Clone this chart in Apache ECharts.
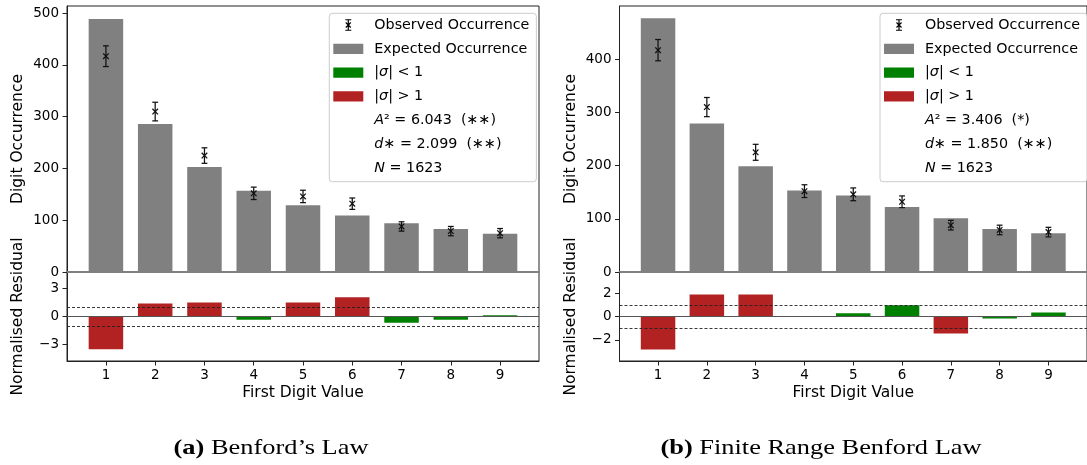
<!DOCTYPE html>
<html><head><meta charset="utf-8">
<script src="https://cdn.jsdelivr.net/npm/echarts@6/dist/echarts.min.js"></script>
<style>html,body{margin:0;padding:0;background:#fff}#c{width:1087px;height:465px}</style>
</head><body><div id="c"></div>
<script>
// ---------------- data ----------------
const digits = [1, 2, 3, 4, 5, 6, 7, 8, 9];
const observed = [417, 310, 225, 152, 146, 132, 88, 79, 75];
const observedErr = [20, 18, 15, 12, 12, 11, 9, 9, 9];
const expectedBenford = [489, 286, 203, 157, 129, 109, 94, 83, 74];
const residualBenford = [-3.5, 1.39, 1.5, -0.36, 1.5, 2.07, -0.68, -0.36, 0.14];
const expectedFinite = [477, 279, 199, 153, 144, 122, 101, 81, 73];
const residualFinite = [-2.83, 1.89, 1.89, -0.03, 0.28, 0.97, -1.46, -0.17, 0.34];
const ticksTopA = [0, 100, 200, 300, 400, 500];
const ticksTopB = [0, 100, 200, 300, 400];
const ticksResA = [-3, 0, 3];
const ticksResB = [-2, 0, 2];
const sigmaBand = [-1, 1];
const statsA = ['{i|A}² = 6.043  (∗∗)', '{i|d}∗ = 2.099  (∗∗)', '{i|N} = 1623'];
const statsB = ['{i|A}² = 3.406  (*)', '{i|d}∗ = 1.850  (∗∗)', '{i|N} = 1623'];
const captionA = ['(a)', 'Benford’s Law'];
const captionB = ['(b)', 'Finite Range Benford Law'];

// ---------------- layout / style ----------------
const FONT = 'DejaVu Sans';
const W = 472, TOP = 6, MID = 272, BOT = 361;
const BARW = 34.5;
const panels = [
  {left: 67, expected: expectedBenford, residual: residualBenford, yMax: 514, resLim: 4.77,
   topTicks: ticksTopA, resTicks: ticksResA, stats: statsA, legendLeft: 329.3, caption: captionA, capX: 271},
  {left: 619.5, expected: expectedFinite, residual: residualFinite, yMax: 500, resLim: 3.82,
   topTicks: ticksTopB, resTicks: ticksResB, stats: statsB, legendLeft: 880, caption: captionB, capX: 821}
];

const DOTS = 'M0,0h0.01v0.01h-0.01zM35.99,15.99h0.01v0.01h-0.01z';
const RECT_ICON = 'path://' + DOTS + 'M0,2.85h30v10.3h-30z';
const ERR_ICON = 'path://' + DOTS +
  'M14.4,2.2h1.2v11.6h-1.2z' +
  'M12,2.2h6v1.1h-6z' +
  'M12,12.7h6v1.1h-6z' +
  'M12.92,5.08L17.92,10.08L17.08,10.92L12.08,5.92z' +
  'M12.08,10.08L17.08,5.08L17.92,5.92L12.92,10.92z';

const minus = v => (v < 0 ? '\u2212' + (-v) : String(v));
const axisTxt = {fontFamily: FONT, fontSize: 13.5, color: '#000'};
const nameTxt = {fontFamily: FONT, fontSize: 15.5, color: '#000', lineHeight: 18};

const grid = [], xAxis = [], yAxis = [], series = [], legend = [], graphic = [];

panels.forEach((p, k) => {
  const gi = 2 * k, ri = 2 * k + 1;
  grid.push({left: p.left, top: TOP, width: W, height: MID - TOP, show: true,
             borderColor: '#222', borderWidth: 1, backgroundColor: 'transparent'});
  grid.push({left: p.left, top: MID, width: W, height: BOT - MID, show: true,
             borderColor: '#222', borderWidth: 1, backgroundColor: 'transparent'});

  xAxis.push({gridIndex: gi, type: 'value', min: 0.21, max: 9.79,
    axisLine: {show: true, onZero: false, lineStyle: {color: '#808080', width: 2}},
    axisTick: {show: false}, axisLabel: {show: false}, splitLine: {show: false}});
  xAxis.push({gridIndex: ri, type: 'value', min: 0.21, max: 9.79,
    axisLine: {show: true, onZero: false, lineStyle: {color: '#222', width: 1}},
    axisTick: {show: true, length: 4.5, customValues: digits, lineStyle: {color: '#222'}},
    axisLabel: {show: true, customValues: digits, margin: 6, lineHeight: 16, ...axisTxt},
    splitLine: {show: false},
    name: 'First Digit Value', nameLocation: 'middle', nameGap: 23, nameTextStyle: nameTxt});

  yAxis.push({gridIndex: gi, type: 'value', min: 0, max: p.yMax,
    axisLine: {show: true, lineStyle: {color: '#222', width: 1}},
    axisTick: {show: true, length: 4.5, customValues: p.topTicks, lineStyle: {color: '#222'}},
    axisLabel: {show: true, customValues: p.topTicks, margin: 8, ...axisTxt},
    splitLine: {show: false},
    name: 'Digit Occurrence', nameLocation: 'middle', nameGap: 40, nameRotate: 90, nameTextStyle: nameTxt});
  yAxis.push({gridIndex: ri, type: 'value', min: -p.resLim, max: p.resLim,
    axisLine: {show: true, lineStyle: {color: '#222', width: 1}},
    axisTick: {show: true, length: 4.5, customValues: p.resTicks, lineStyle: {color: '#222'}},
    axisLabel: {show: true, customValues: p.resTicks, margin: 8, formatter: minus, ...axisTxt},
    splitLine: {show: false},
    name: 'Normalised Residual', nameLocation: 'middle', nameGap: 40, nameRotate: 90, nameTextStyle: nameTxt});

  series.push({type: 'bar', name: 'Expected Occurrence', xAxisIndex: gi, yAxisIndex: gi,
    barWidth: BARW, itemStyle: {color: '#808080'},
    data: digits.map((d, i) => [d, p.expected[i]])});

  series.push({type: 'custom', name: 'Observed Occurrence', xAxisIndex: gi, yAxisIndex: gi,
    coordinateSystem: 'cartesian2d', z: 5, itemStyle: {color: '#000'},
    encode: {x: 0, y: 1},
    data: digits.map((d, i) => [d, observed[i], observedErr[i]]),
    renderItem: (params, api) => {
      const x = api.value(0), y = api.value(1), e = api.value(2);
      const c = api.coord([x, y]);
      const t = api.coord([x, y + e]);
      const b = api.coord([x, y - e]);
      const cw = 2.9, m = 2.8;
      const st = {stroke: '#111', lineWidth: 1.25};
      return {type: 'group', children: [
        {type: 'line', shape: {x1: c[0], y1: t[1], x2: c[0], y2: b[1]}, style: st},
        {type: 'line', shape: {x1: c[0] - cw, y1: t[1], x2: c[0] + cw, y2: t[1]}, style: st},
        {type: 'line', shape: {x1: c[0] - cw, y1: b[1], x2: c[0] + cw, y2: b[1]}, style: st},
        {type: 'line', shape: {x1: c[0] - m, y1: c[1] - m, x2: c[0] + m, y2: c[1] + m}, style: st},
        {type: 'line', shape: {x1: c[0] - m, y1: c[1] + m, x2: c[0] + m, y2: c[1] - m}, style: st}
      ]};
    }});

  const lowIdx = digits.map((d, i) => i).filter(i => Math.abs(p.residual[i]) < 1);
  const highIdx = digits.map((d, i) => i).filter(i => Math.abs(p.residual[i]) >= 1);
  series.push({type: 'bar', name: '|σ| < 1', xAxisIndex: ri, yAxisIndex: ri,
    barWidth: BARW, barGap: '-100%', itemStyle: {color: '#008000'},
    data: lowIdx.map(i => [digits[i], p.residual[i]])});
  series.push({type: 'bar', name: '|σ| > 1', xAxisIndex: ri, yAxisIndex: ri,
    barWidth: BARW, barGap: '-100%', itemStyle: {color: '#b22222'},
    data: highIdx.map(i => [digits[i], p.residual[i]]),
    markLine: {silent: true, symbol: ['none', 'none'], label: {show: false}, animation: false,
      data: [
        {yAxis: 0, lineStyle: {color: '#555', width: 1, type: 'solid'}},
        {yAxis: sigmaBand[1], lineStyle: {color: '#222', width: 0.9, type: [3, 2]}},
        {yAxis: sigmaBand[0], lineStyle: {color: '#222', width: 0.9, type: [3, 2]}}
      ]}});

  const statNames = p.stats.map((s, j) => 'p' + k + 's' + j);
  statNames.forEach(n => series.push({type: 'scatter', name: n, xAxisIndex: gi, yAxisIndex: gi, data: []}));
  const disp = {'|σ| < 1': '|{i|σ}| < 1', '|σ| > 1': '|{i|σ}| > 1'};
  statNames.forEach((n, j) => { disp[n] = p.stats[j]; });

  legend.push({
    orient: 'vertical', left: p.legendLeft, top: 13.3,
    itemWidth: 36, itemHeight: 16, itemGap: 7.8,
    padding: [3.7, 7, 5.9, 4],
    backgroundColor: 'rgba(255,255,255,0.85)', borderColor: '#cccccc', borderWidth: 1, borderRadius: 3,
    selectedMode: false,
    textStyle: {fontFamily: FONT, fontSize: 14.3, color: '#000', lineHeight: 16,
      rich: {i: {fontFamily: FONT, fontSize: 14.3, fontStyle: 'italic', color: '#000', lineHeight: 16}}},
    formatter: name => disp[name] || name,
    data: [
      {name: 'Observed Occurrence', icon: ERR_ICON},
      {name: 'Expected Occurrence', icon: RECT_ICON},
      {name: '|σ| < 1', icon: RECT_ICON},
      {name: '|σ| > 1', icon: RECT_ICON}
    ].concat(statNames.map(n => ({name: n, icon: 'none'})))
  });

  graphic.push({type: 'text', x: p.capX, y: 448, scaleX: 1.2, scaleY: 1,
    style: {text: '{b|' + p.caption[0] + '} ' + p.caption[1],
      fontFamily: 'Liberation Serif', fontSize: 22, fill: '#000', align: 'center', verticalAlign: 'middle',
      rich: {b: {fontFamily: 'Liberation Serif', fontSize: 22, fontWeight: 'bold', fill: '#000'}}}});
});

const chart = echarts.init(document.getElementById('c'), null, {renderer: 'canvas'});
chart.setOption({
  animation: false,
  backgroundColor: '#fff',
  textStyle: {fontFamily: FONT},
  grid, xAxis, yAxis, series, legend, graphic
});
</script>
</body></html>
